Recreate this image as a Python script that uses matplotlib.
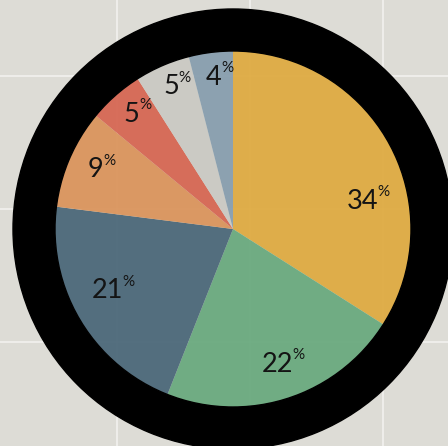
import matplotlib.pyplot as plt
import numpy as np
from matplotlib.patches import Wedge
from matplotlib.lines import Line2D

# Slice shares (percent), clockwise from 12 o'clock
shares = [34, 22, 21, 9, 5, 5, 4]
colors = ['#dfab42', '#6aaa7f', '#4c6879', '#da955d', '#d66753', '#cac9c3', '#889eae']
# label placement: radius as a fraction of the pie radius, angle nudge in degrees
label_r = [0.745, 0.80, 0.785, 0.84, 0.86, 0.87, 0.86]
label_nudge = [-16.8, 0, -4.5, 0, 0, 0, 0]

fig = plt.figure(figsize=(4.48, 4.46), dpi=100)
fig.patch.set_facecolor('#dddcd6')

# faint background grid (behind the axes)
for fx in [0.261, 0.558, 0.855]:
    fig.add_artist(Line2D([fx, fx], [0, 1], color='white', alpha=0.5, lw=1.5, zorder=-5))
for fy in [0.830, 0.531, 0.233]:
    fig.add_artist(Line2D([0, 1], [fy, fy], color='white', alpha=0.5, lw=1.5, zorder=-5))

ax = fig.add_axes([0, 0, 1, 1])
ax.set_facecolor('none')
ax.axis('off')

wedges, _ = ax.pie(shares, colors=colors, startangle=90, counterclock=False,
                   radius=1.0, wedgeprops=dict(linewidth=0, alpha=0.95))

# thick black ring around the pie
ax.add_patch(Wedge((0, 0), 1.236, 0, 360, width=0.236, color='black', zorder=5))

for i, (w, s) in enumerate(zip(wedges, shares)):
    ang = np.deg2rad((w.theta1 + w.theta2) / 2 + label_nudge[i])
    r = label_r[i]
    t = ax.text(r * np.cos(ang), r * np.sin(ang), str(s), ha='center', va='center',
                fontsize=19.5, family='Lato', color='#141414', zorder=6)
    ax.annotate('%', xy=(1.0, 1.0), xycoords=t, ha='left', va='top', xytext=(-0.5, 2.5),
                textcoords='offset points', fontsize=11, family='Lato',
                color='#141414', zorder=6)

ax.set_xlim(-233 / 178, 215 / 178)
ax.set_ylim(-217 / 178, 229 / 178)
ax.set_aspect('auto')

fig.savefig('out.png', dpi=100, facecolor=fig.get_facecolor())
